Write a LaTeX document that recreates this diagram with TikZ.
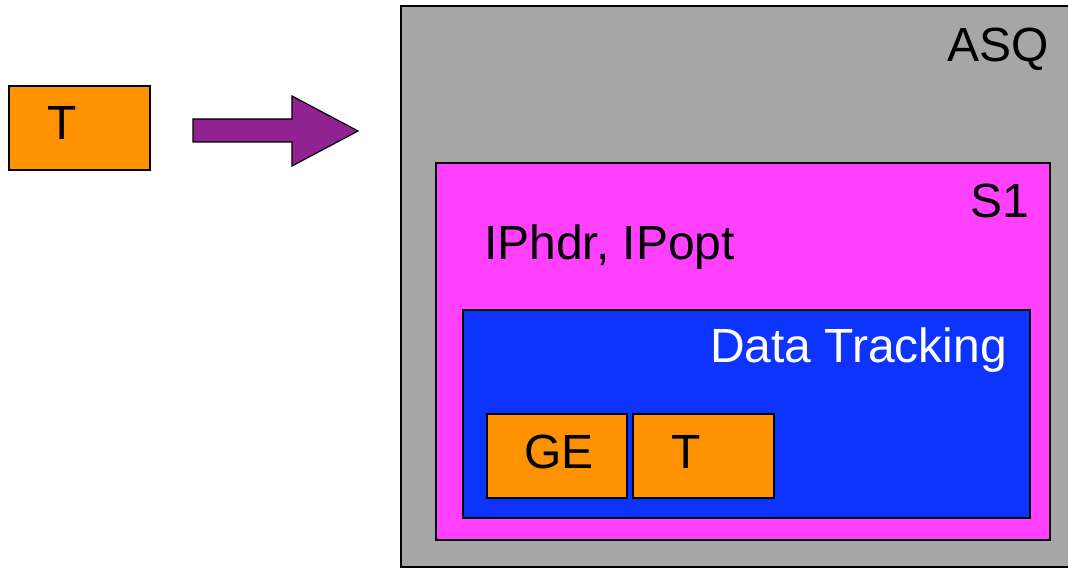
\documentclass[tikz,border=0pt]{standalone}
\usepackage{fontspec}
\setmainfont{Liberation Sans}
\definecolor{asqgray}{RGB}{166,166,166}
\definecolor{sonepink}{RGB}{255,64,255}
\definecolor{trackblue}{RGB}{13,51,255}
\definecolor{itemorange}{RGB}{255,146,0}
\definecolor{flowpurple}{RGB}{145,34,145}
\begin{document}
\begin{tikzpicture}[x=1pt,y=-1pt,
  panel/.style={draw=black, line width=1.8pt, inner sep=0pt, outer sep=0pt, anchor=north west},
  item/.style={panel, fill=itemorange, minimum height=84},
  caption/.style={font=\fontsize{48}{57}\selectfont, inner sep=0pt, outer sep=0pt},
]
\useasboundingbox (0,0) rectangle (1068,569);

% nested containers
\node[panel, fill=asqgray, minimum width=680, minimum height=561] (asq) at (401,6) {};
\node[panel, fill=sonepink, minimum width=614, minimum height=377] (s1) at (436,163) {};
\node[panel, fill=trackblue, minimum width=567, minimum height=208] (track) at (463,310) {};

% orange items
\node[item, minimum width=141] (tout) at (9,86) {};
\node[item, minimum width=140] (ge) at (487,414) {};
\node[item, minimum width=141] (tin) at (633,414) {};

% captions
\node[caption, anchor=base east] (asqlabel) at (1049,62) {ASQ};
\node[caption, anchor=base east] (s1label) at (1029,218) {S1};
\node[caption, anchor=base west] (iplabel) at (484,260) {IPhdr, IPopt};
\node[caption, anchor=base west, text=white] (tracklabel) at (710,362) {Data Tracking};
\node[caption, anchor=base west] (toutlabel) at (47,140) {T};
\node[caption, anchor=base west] (gelabel) at (524,468) {GE};
\node[caption, anchor=base west] (tinlabel) at (671,468) {T};

% block arrow into the ASQ container
\coordinate (arrowtail) at (193,130.5);
\coordinate (arrowtip) at (358,131);
\draw[fill=flowpurple, line width=1.2pt, line join=miter]
  (arrowtail) ++(0,-11.5) -- (292,119) -- (292,96) -- (arrowtip)
  -- (292,166) -- (292,142) -- (193,142) -- cycle;
\end{tikzpicture}
\end{document}
